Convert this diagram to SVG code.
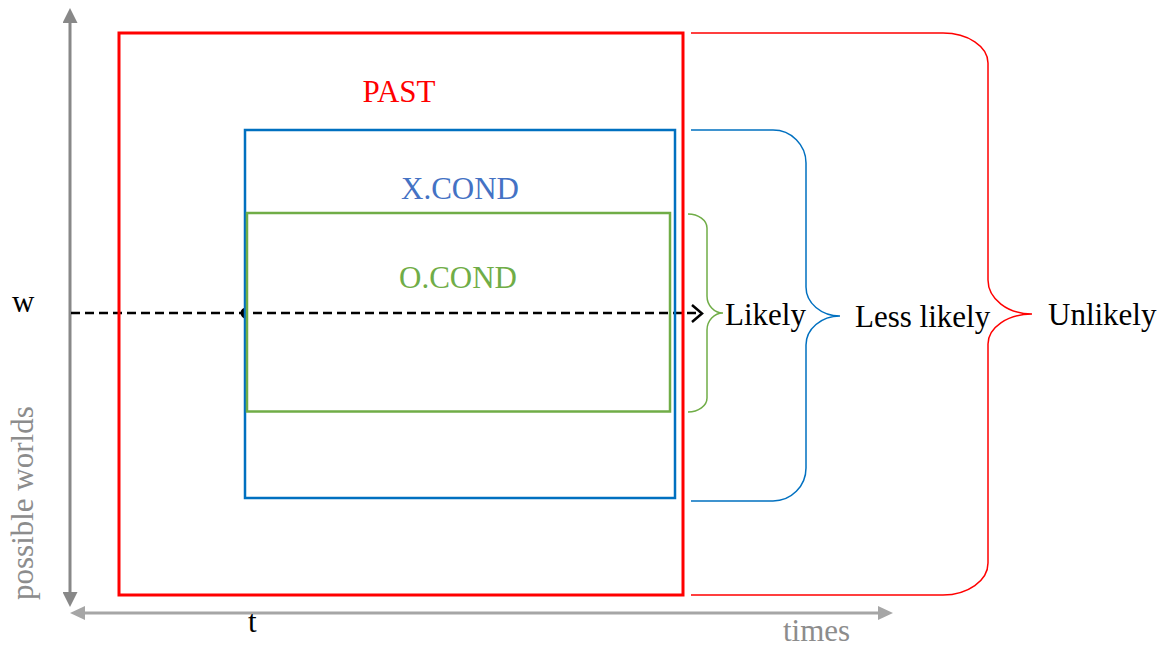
<svg xmlns="http://www.w3.org/2000/svg" width="1164" height="647" viewBox="0 0 1164 647">
  <style>
    text { font-family: "Liberation Serif", serif; font-size: 31px; }
    .gray { fill: #8c8c8c; }
    .ink { fill: #000000; }
    .box { fill: none; }
    .brace { fill: none; stroke-width: 1.5; }
  </style>
  <defs>
    <marker id="headDark" viewBox="0 0 15 15" refX="2" refY="7.5" markerWidth="15" markerHeight="15" markerUnits="userSpaceOnUse" orient="auto-start-reverse">
      <path d="M0,0 L15,7.5 L0,15 Z" fill="#888888"/>
    </marker>
    <marker id="headLight" viewBox="0 0 15 14" refX="2" refY="7" markerWidth="15" markerHeight="14" markerUnits="userSpaceOnUse" orient="auto-start-reverse">
      <path d="M0,0 L15,7 L0,14 Z" fill="#a6a6a6"/>
    </marker>
  </defs>

  <!-- axes -->
  <g id="axes">
    <line x1="70" y1="21" x2="70" y2="594" stroke="#888888" stroke-width="3" marker-start="url(#headDark)" marker-end="url(#headDark)"/>
    <line x1="83" y1="613" x2="880" y2="613" stroke="#a6a6a6" stroke-width="3" marker-start="url(#headLight)" marker-end="url(#headLight)"/>
    <text class="ink" x="12" y="312">w</text>
    <text class="ink" x="248" y="632">t</text>
    <text class="gray" x="783" y="641">times</text>
    <text class="gray" transform="translate(33,600) rotate(-90)">possible worlds</text>
  </g>

  <!-- world line through the regions -->
  <g id="connectors">
    <line x1="71" y1="313" x2="701" y2="313" stroke="#000" stroke-width="2.5" stroke-dasharray="9 5"/>
    <path d="M692,305 L702,313.5 L692,322" fill="none" stroke="#000" stroke-width="2.5"/>
    <path d="M246,307.5 A5.5 5.5 0 0 0 246 318.5 Z" fill="#000"/>
  </g>

  <!-- nested regions -->
  <g id="past">
    <rect class="box" x="119" y="33" width="564" height="562" stroke="#ff0000" stroke-width="3"/>
    <text x="399" y="102" text-anchor="middle" fill="#ff0000">PAST</text>
  </g>
  <g id="xcond">
    <rect class="box" x="245" y="130" width="430" height="368" stroke="#0070c0" stroke-width="2.5"/>
    <text x="460" y="199" text-anchor="middle" fill="#4472c4">X.COND</text>
  </g>
  <g id="ocond">
    <rect class="box" x="247" y="213" width="423" height="198.5" stroke="#70ad47" stroke-width="2.5"/>
    <text x="458" y="288" text-anchor="middle" fill="#70ad47">O.COND</text>
  </g>

  <!-- likelihood braces -->
  <g id="likely">
    <path class="brace" stroke="#70ad47" d="M688,214 A19 14 0 0 1 707 228 V296 A16 17 0 0 0 723 313 A16 17 0 0 0 707 330 V398 A19 14 0 0 1 688 412"/>
    <text class="ink" x="725" y="325">Likely</text>
  </g>
  <g id="less-likely">
    <path class="brace" stroke="#0070c0" d="M691,130 H773 A33 33 0 0 1 806 163 V287 A34 29 0 0 0 840 316 A34 29 0 0 0 806 345 V468 A33 33 0 0 1 773 501 H691"/>
    <text class="ink" x="855" y="327">Less likely</text>
  </g>
  <g id="unlikely">
    <path class="brace" stroke="#ff0000" d="M691,33 H943 A45 30 0 0 1 988 63 V280 A44 34 0 0 0 1032 314 A44 30 0 0 0 988 344 V563 A45 32 0 0 1 943 595 H691"/>
    <text class="ink" x="1048" y="325">Unlikely</text>
  </g>
</svg>
